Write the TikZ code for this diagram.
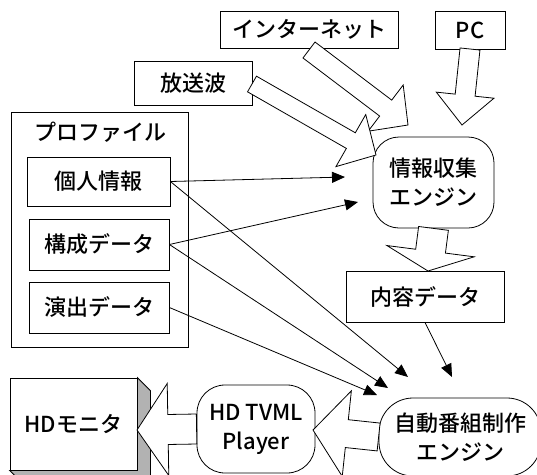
\documentclass[tikz,border=0pt]{standalone}
\usepackage{fontspec}
\setmainfont{Noto Sans CJK JP}[UprightFont=* Medium]
\usetikzlibrary{arrows.meta,calc}

\tikzset{
  box/.style={draw, line width=0.8pt, fill=white, inner sep=0pt, font=\fontsize{22}{29}\selectfont},
  engine/.style={box, rounded corners=26pt, align=center},
  fatarrow/.style={draw, line width=0.8pt, fill=white, line join=miter},
  link/.style={line width=0.8pt, -{Triangle[length=13pt,width=11pt]}},
}

% tail, tip, shaft half width, head half width, head length
\newcommand{\fatarrow}[5]{%
  \coordinate (fa-b) at ($(#2)!#5!(#1)$);
  \draw[fatarrow] ($(#1)!#3!90:(#2)$) -- ($(fa-b)!#3!-90:(#1)$) -- ($(fa-b)!#4!-90:(#1)$)
    -- (#2) -- ($(fa-b)!#4!90:(#1)$) -- ($(fa-b)!#3!90:(#1)$) -- ($(#1)!#3!-90:(#2)$) -- cycle;
}

\begin{document}
\begin{tikzpicture}[x=1pt, y=-1pt]
    \path[use as bounding box, clip] (0,0) rectangle (537,474);

    % Nodes
    \node[box, minimum width=178pt, minimum height=37pt] (net) at (309,29.5) {インターネット};
    \node[box, minimum width=70pt, minimum height=38pt] (pc) at (470,30) {PC};
    \node[box, minimum width=118pt, minimum height=44pt] (hoso) at (193,83) {放送波};

    \node[box, minimum width=177pt, minimum height=235pt] (prof) at (99.5,229.5) {};
    \node[font=\fontsize{22}{29}\selectfont] (proftitle) at (100,132) {プロファイル};
    \node[box, minimum width=143pt, minimum height=49pt] (kojin) at (98.5,181.5) {個人情報};
    \node[box, minimum width=140pt, minimum height=51pt] (kosei) at (99,244.5) {構成データ};
    \node[box, minimum width=140pt, minimum height=51pt] (enshutsu) at (99,307.5) {演出データ};

    \node[engine, minimum width=121pt, minimum height=91pt] (collect) at (433.5,182.5) {情報収集\\エンジン};
    \node[box, minimum width=158pt, minimum height=51pt] (naiyou) at (425,296.5) {内容データ};
    \node[engine, rounded corners=34pt, minimum width=162pt, minimum height=78pt] (auto) at (460,437) {自動番組制作\\エンジン};
    \node[engine, rounded corners=28pt, minimum width=118pt, minimum height=88pt] (player) at (256,429) {HD TVML\\Player};

    % Monitor with its shaded depth
    \node[box, minimum width=127pt, minimum height=92pt] (monitor) at (73.5,424) {HDモニタ};
    \filldraw[fill=black!30, line width=0.8pt] (monitor.north east) -- ++(13,13)
      -- ($(monitor.south east)+(13,13)$) -- ($(monitor.south west)+(13,13)$)
      -- (monitor.south west) -- (monitor.south east) -- cycle;

    % Free ends
    \coordinate (c1) at (345,177);
    \coordinate (c2) at (358,202);
    \coordinate (a1) at (408,377);
    \coordinate (a2) at (388,388);
    \coordinate (a3) at (377,395);
    \coordinate (a4) at (452,377);

    % Thin arrows
    \draw[link] (kojin.east) -- (c1);
    \draw[link] (kojin.east) -- (a1);
    \draw[link] (kosei.east) -- (c2);
    \draw[link] (kosei.east) -- (a2);
    \draw[link] (enshutsu.east) -- (a3);
    \draw[link] (naiyou.south) -- (a4);

    % Block arrows
    \coordinate (netTail) at (309,50);
    \coordinate (netTip) at (408,125);
    \coordinate (hosoTail) at (252,84);
    \coordinate (hosoTip) at (376,155);
    \coordinate (pcTail) at (470,49);
    \coordinate (pcTip) at (462,125);
    \coordinate (naiyouTip) at (428,271);
    \coordinate (playerTip) at (313,430);
    \coordinate (monTip) at (137,430);

    \fatarrow{netTail}{netTip}{10pt}{29pt}{28pt}
    \fatarrow{hosoTail}{hosoTip}{9pt}{30pt}{29pt}
    \fatarrow{pcTail}{pcTip}{10pt}{29pt}{30pt}
    \fatarrow{collect.south}{naiyouTip}{15pt}{44pt}{20pt}
    \fatarrow{auto.west}{playerTip}{14pt}{43pt}{34pt}
    \fatarrow{player.west}{monTip}{15pt}{46pt}{31pt}
\end{tikzpicture}
\end{document}
